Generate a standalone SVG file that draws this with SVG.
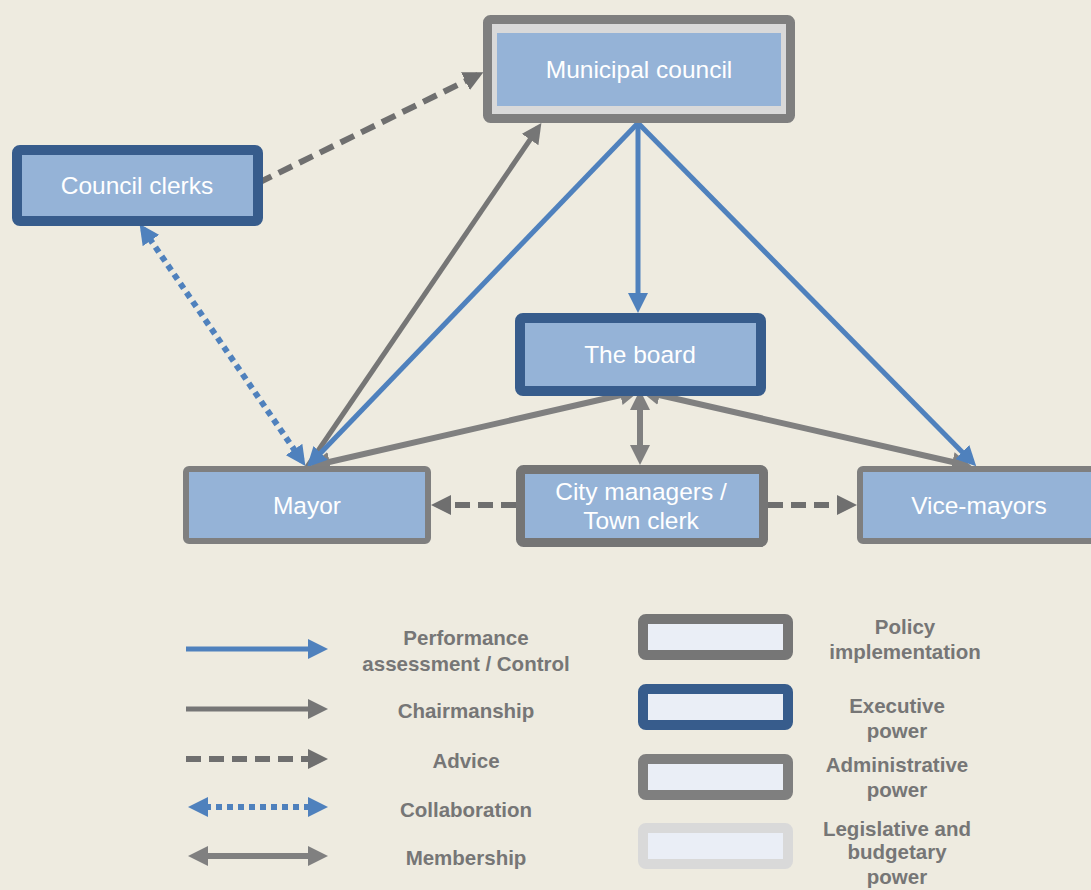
<svg xmlns="http://www.w3.org/2000/svg" width="1091" height="890" viewBox="0 0 1091 890">
<style>
.bg{fill:#EEEBE0}
.ntxt{font-family:"Liberation Sans",Arial,sans-serif;font-size:24.5px;fill:#FFFFFF;text-anchor:middle}
.ltxt{font-family:"Liberation Sans",Arial,sans-serif;font-size:20.5px;font-weight:bold;fill:#767676;text-anchor:middle}
.fillb{fill:#95B3D7}
.blue{stroke:#4F81BD;stroke-width:5;fill:none}
.gray{stroke:#767676;stroke-width:5;fill:none}
.memb{stroke:#808080;stroke-width:6;fill:none}
.adv{stroke:#6F6F6F;stroke-width:6;fill:none;stroke-dasharray:15 8}
.col{stroke:#4F81BD;stroke-width:6;fill:none;stroke-dasharray:6 5}
</style>
<defs>
<marker id="mb" viewBox="0 0 10 10" refX="7" refY="5" markerWidth="20" markerHeight="20" markerUnits="userSpaceOnUse" orient="auto-start-reverse"><path d="M0,0 L10,5 L0,10 z" fill="#4F81BD"/></marker>
<marker id="mg" viewBox="0 0 10 10" refX="7" refY="5" markerWidth="20" markerHeight="20" markerUnits="userSpaceOnUse" orient="auto-start-reverse"><path d="M0,0 L10,5 L0,10 z" fill="#767676"/></marker>
<marker id="mm" viewBox="0 0 10 10" refX="7" refY="5" markerWidth="20" markerHeight="20" markerUnits="userSpaceOnUse" orient="auto-start-reverse"><path d="M0,0 L10,5 L0,10 z" fill="#808080"/></marker>
<marker id="ma" viewBox="0 0 10 10" refX="7" refY="5" markerWidth="20" markerHeight="20" markerUnits="userSpaceOnUse" orient="auto-start-reverse"><path d="M0,0 L10,5 L0,10 z" fill="#6F6F6F"/></marker>
</defs>
<rect class="bg" x="0" y="0" width="1091" height="890"/>

<g id="connectors">
<line class="adv" x1="258" y1="183" x2="478" y2="75" marker-end="url(#ma)"/>
<line class="col" x1="143" y1="229" x2="302" y2="461" marker-start="url(#mb)" marker-end="url(#mb)"/>
<line class="memb" x1="316" y1="465" x2="634" y2="392" marker-start="url(#mm)" marker-end="url(#mm)"/>
<line class="memb" x1="966" y1="465" x2="646" y2="392" marker-start="url(#mm)" marker-end="url(#mm)"/>
<line class="memb" x1="640" y1="459" x2="640" y2="396" marker-start="url(#mm)" marker-end="url(#mm)"/>
<line class="gray" x1="307" y1="467" x2="538" y2="128" marker-end="url(#mg)"/>
<line class="blue" x1="638" y1="123" x2="311" y2="463" marker-end="url(#mb)"/>
<line class="blue" x1="638" y1="123" x2="638" y2="307" marker-end="url(#mb)"/>
<line class="blue" x1="638" y1="123" x2="972" y2="462" marker-end="url(#mb)"/>
<line class="adv" x1="516" y1="505" x2="437" y2="505" marker-end="url(#ma)"/>
<line class="adv" x1="768" y1="505" x2="851" y2="505" marker-end="url(#ma)"/>
</g>

<g id="municipal-council">
<rect x="487.5" y="19.5" width="303" height="99" rx="3" fill="#D9D9D9" stroke="#7F7F7F" stroke-width="9"/>
<rect class="fillb" x="497" y="33" width="284" height="73"/>
<text class="ntxt" x="639" y="78">Municipal  council</text>
</g>

<g id="council-clerks">
<rect class="fillb" x="17" y="150" width="241" height="71" rx="3" stroke="#375C8C" stroke-width="10"/>
<text class="ntxt" x="137" y="194">Council clerks</text>
</g>

<g id="the-board">
<rect class="fillb" x="520" y="318" width="241" height="73" rx="3" stroke="#375C8C" stroke-width="10"/>
<text class="ntxt" x="640" y="363">The board</text>
</g>

<g id="mayor">
<rect class="fillb" x="186" y="469" width="242" height="72" rx="3" stroke="#7F7F7F" stroke-width="6"/>
<text class="ntxt" x="307" y="514">Mayor</text>
</g>

<g id="city-managers">
<rect class="fillb" x="520.5" y="469.5" width="243" height="73" rx="3" stroke="#757575" stroke-width="9"/>
<text class="ntxt" x="641" y="500">City managers /</text>
<text class="ntxt" x="641" y="529">Town clerk</text>
</g>

<g id="vice-mayors">
<rect class="fillb" x="860" y="469" width="240" height="72" rx="3" stroke="#7F7F7F" stroke-width="6"/>
<text class="ntxt" x="979" y="514">Vice-mayors</text>
</g>

<g id="legend">
<line class="blue" x1="186" y1="649" x2="322" y2="649" stroke-width="6" marker-end="url(#mb)"/>
<line class="gray" x1="186" y1="709" x2="322" y2="709" stroke-width="6" marker-end="url(#mg)"/>
<line class="adv" x1="186" y1="759" x2="322" y2="759" marker-end="url(#ma)"/>
<line class="col" x1="194" y1="807" x2="322" y2="807" marker-start="url(#mb)" marker-end="url(#mb)"/>
<line class="memb" x1="194" y1="856" x2="322" y2="856" marker-start="url(#mm)" marker-end="url(#mm)"/>
<text class="ltxt" x="466" y="645">Performance</text>
<text class="ltxt" x="466" y="671">assessment / Control</text>
<text class="ltxt" x="466" y="718">Chairmanship</text>
<text class="ltxt" x="466" y="768">Advice</text>
<text class="ltxt" x="466" y="817">Collaboration</text>
<text class="ltxt" x="466" y="865">Membership</text>

<rect x="643" y="619" width="145" height="36" rx="3" fill="#EAEEF6" stroke="#767676" stroke-width="10"/>
<rect x="643" y="689" width="145" height="36" rx="3" fill="#EAEEF6" stroke="#375C8C" stroke-width="10"/>
<rect x="643" y="759" width="145" height="36" rx="3" fill="#EAEEF6" stroke="#7F7F7F" stroke-width="10"/>
<rect x="643" y="828" width="145" height="36" rx="3" fill="#EAEEF6" stroke="#D9D9D9" stroke-width="10"/>
<text class="ltxt" x="905" y="634">Policy</text>
<text class="ltxt" x="905" y="659">implementation</text>
<text class="ltxt" x="897" y="713">Executive</text>
<text class="ltxt" x="897" y="738">power</text>
<text class="ltxt" x="897" y="772">Administrative</text>
<text class="ltxt" x="897" y="797">power</text>
<text class="ltxt" x="897" y="836">Legislative and</text>
<text class="ltxt" x="897" y="859">budgetary</text>
<text class="ltxt" x="897" y="884">power</text>
</g>
</svg>
